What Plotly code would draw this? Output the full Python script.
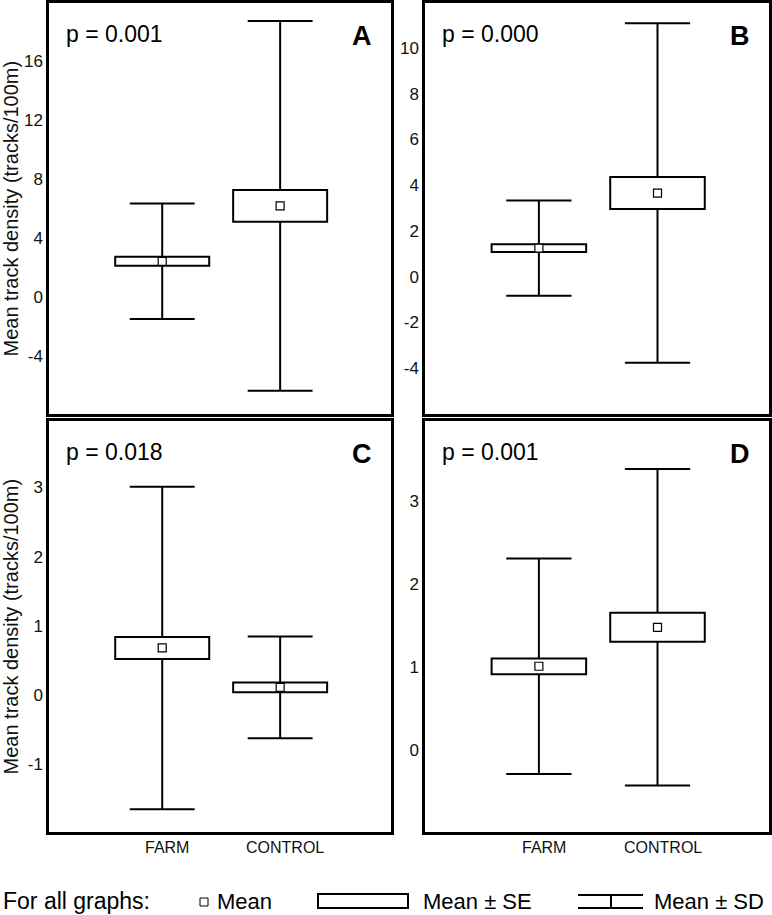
import plotly.graph_objects as go

# ---------------- data ----------------
categories = ["FARM", "CONTROL"]

mean_A = [2.43, 6.18]
se_A = [0.30, 1.07]
sd_A = [3.90, 12.50]

mean_B = [1.25, 3.66]
se_B = [0.17, 0.70]
sd_B = [2.08, 7.42]

mean_C = [0.68, 0.11]
se_C = [0.16, 0.07]
sd_C = [2.33, 0.735]

mean_D = [1.01, 1.48]
se_D = [0.095, 0.175]
sd_D = [1.30, 1.91]

p_values = ["p = 0.001", "p = 0.000", "p = 0.018", "p = 0.001"]
panel_letters = ["A", "B", "C", "D"]

ticks_A = [-4, 0, 4, 8, 12, 16]
ticks_B = [-4, -2, 0, 2, 4, 6, 8, 10]
ticks_C = [-1, 0, 1, 2, 3]
ticks_D = [0, 1, 2, 3]

yrange_A = [-7.9, 19.9]
yrange_B = [-6.0, 11.97]
yrange_C = [-1.98, 3.96]
yrange_D = [-0.99, 3.97]

y_title = "Mean track density (tracks/100m)"
legend_title = "For all graphs:"
legend_labels = ["Mean", "Mean ± SE", "Mean ± SD"]

# ---------------- layout geometry (pixels) ----------------
W, H = 772, 915
FONT = "Arial, Liberation Sans, sans-serif"
panels = [
    dict(x0=49, x1=391, y0=3, y1=414),
    dict(x0=425, x1=769, y0=3, y1=414),
    dict(x0=49, x1=391, y0=421, y1=832),
    dict(x0=425, x1=769, y0=421, y1=832),
]
means = [mean_A, mean_B, mean_C, mean_D]
ses = [se_A, se_B, se_C, se_D]
sds = [sd_A, sd_B, sd_C, sd_D]
ticks = [ticks_A, ticks_B, ticks_C, ticks_D]
yranges = [yrange_A, yrange_B, yrange_C, yrange_D]

xpos = list(range(len(categories)))
box_width = 0.797
cap_half = 0.275
xrange = [-0.96, 1.94]


def px(x):
    return x / W


def py(y):
    return 1 - y / H


fig = go.Figure()
layout = dict(
    width=W, height=H,
    margin=dict(l=0, r=0, t=0, b=0),
    paper_bgcolor="white", plot_bgcolor="white",
    font=dict(family=FONT, color="#111111"),
    showlegend=False, barmode="overlay",
)
annotations = []
shapes = []

for i, p in enumerate(panels):
    n = i + 1
    xa = "x" if n == 1 else f"x{n}"
    ya = "y" if n == 1 else f"y{n}"
    m, se, sd = means[i], ses[i], sds[i]
    # SD whiskers with caps (outside the SE box)
    wx, wy = [], []
    for c, mm, s_e, s_d in zip(xpos, m, se, sd):
        top, bot = mm + s_d, mm - s_d
        wx += [c, c, None, c - cap_half, c + cap_half, None,
               c, c, None, c - cap_half, c + cap_half, None]
        wy += [mm + s_e, top, None, top, top, None,
               mm - s_e, bot, None, bot, bot, None]
    fig.add_trace(go.Scatter(
        x=wx, y=wy, mode="lines", line=dict(color="black", width=2),
        hoverinfo="skip", xaxis=xa, yaxis=ya,
    ))
    # SE box
    fig.add_trace(go.Bar(
        x=xpos, y=[2 * s for s in se], base=[a - b for a, b in zip(m, se)],
        width=box_width, marker=dict(color="white", line=dict(color="black", width=2)),
        hoverinfo="skip", xaxis=xa, yaxis=ya,
    ))
    # Mean
    fig.add_trace(go.Scatter(
        x=xpos, y=m, mode="markers",
        marker=dict(symbol="square", size=8, color="white",
                    line=dict(color="black", width=1.2)),
        hoverinfo="skip", xaxis=xa, yaxis=ya,
    ))
    layout["xaxis" if n == 1 else f"xaxis{n}"] = dict(
        domain=[px(p["x0"]), px(p["x1"])], range=xrange, anchor=ya,
        showline=True, mirror=True, linecolor="black", linewidth=2.5,
        showgrid=False, zeroline=False, ticks="", showticklabels=False,
        fixedrange=True,
    )
    layout["yaxis" if n == 1 else f"yaxis{n}"] = dict(
        domain=[py(p["y1"]), py(p["y0"])], range=yranges[i], anchor=xa,
        showline=True, mirror=True, linecolor="black", linewidth=2.5,
        showgrid=False, zeroline=False, ticks="",
        tickvals=ticks[i], ticktext=[str(t) for t in ticks[i]],
        tickfont=dict(size=17, family=FONT, color="#111111"),
        fixedrange=True,
    )
    if i >= 2:
        for c, lab in zip(xpos, categories):
            annotations.append(dict(
                text=lab, x=c, xref=xa, xshift=5, y=py(847), yref="paper",
                xanchor="center", yanchor="middle", showarrow=False,
                font=dict(size=16, family=FONT, color="#111111"),
            ))
    # p-value
    annotations.append(dict(
        text=p_values[i], x=px(p["x0"] + 15), y=py(p["y0"] + 31),
        xref="paper", yref="paper", xanchor="left", yanchor="middle",
        showarrow=False, font=dict(size=23, family=FONT, color="black"),
    ))
    # panel letter
    annotations.append(dict(
        text=f"<b>{panel_letters[i]}</b>", x=px(p["x1"] - 17), y=py(p["y0"] + 33),
        xref="paper", yref="paper", xanchor="right", yanchor="middle",
        showarrow=False, font=dict(size=27, family=FONT, color="black"),
    ))
    if p["x0"] < 100:
        annotations.append(dict(
            text=y_title, x=px(10), y=py((p["y0"] + p["y1"]) / 2),
            xref="paper", yref="paper", xanchor="center", yanchor="middle",
            textangle=-90, showarrow=False,
            font=dict(size=20, family=FONT, color="#111111"),
        ))

# ---------------- legend (decorative) ----------------
LY = 901
annotations.append(dict(
    text=legend_title, x=px(1), y=py(LY), xref="paper", yref="paper",
    xanchor="left", yanchor="middle", showarrow=False,
    font=dict(size=23, family=FONT, color="black"),
))
shapes.append(dict(type="rect", xref="paper", yref="paper",
                   x0=px(200), x1=px(208), y0=py(906), y1=py(898),
                   line=dict(color="black", width=1), fillcolor="white"))
annotations.append(dict(
    text=legend_labels[0], x=px(215), y=py(LY), xref="paper", yref="paper",
    xanchor="left", yanchor="middle", showarrow=False,
    font=dict(size=22, family=FONT, color="black"),
))
shapes.append(dict(type="rect", xref="paper", yref="paper",
                   x0=px(318), x1=px(408), y0=py(908), y1=py(894),
                   line=dict(color="black", width=2), fillcolor="white"))
annotations.append(dict(
    text=legend_labels[1], x=px(421), y=py(LY), xref="paper", yref="paper",
    xanchor="left", yanchor="middle", showarrow=False,
    font=dict(size=22, family=FONT, color="black"),
))
for yy in (895, 908):
    shapes.append(dict(type="line", xref="paper", yref="paper",
                       x0=px(578), x1=px(643), y0=py(yy), y1=py(yy),
                       line=dict(color="black", width=2)))
shapes.append(dict(type="line", xref="paper", yref="paper",
                   x0=px(611), x1=px(611), y0=py(895), y1=py(908),
                   line=dict(color="black", width=2)))
annotations.append(dict(
    text=legend_labels[2], x=px(652), y=py(LY), xref="paper", yref="paper",
    xanchor="left", yanchor="middle", showarrow=False,
    font=dict(size=22, family=FONT, color="black"),
))

layout["annotations"] = annotations
layout["shapes"] = shapes
fig.update_layout(**layout)
fig.write_html(
    "out.html",
    config={"displayModeBar": False},
    post_script="document.body.style.margin='0';document.body.style.overflow='hidden';",
)
